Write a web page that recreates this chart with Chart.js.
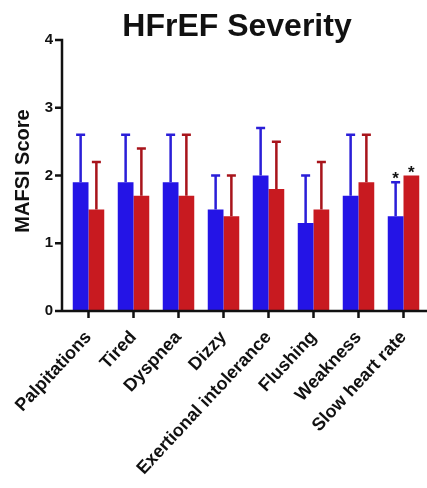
<!DOCTYPE html>
<html>
<head>
<meta charset="utf-8">
<script src="https://cdn.jsdelivr.net/npm/chart.js@4/dist/chart.umd.min.js"></script>
<style>
  html, body { margin: 0; padding: 0; background: #ffffff; }
  #wrap { width: 427px; height: 488px; }
</style>
</head>
<body>
<div id="wrap"><canvas id="c" width="427" height="488"></canvas></div>
<script>
// Symptom categories and MAFSI scores (mean and mean + SD) for the two groups
const categories = ['Palpitations', 'Tired', 'Dyspnea', 'Dizzy', 'Exertional intolerance', 'Flushing', 'Weakness', 'Slow heart rate'];
const blueMeans  = [1.9, 1.9, 1.9, 1.5, 2.0, 1.3, 1.7, 1.4];
const blueUpper  = [2.6, 2.6, 2.6, 2.0, 2.7, 2.0, 2.6, 1.9];
const redMeans   = [1.5, 1.7, 1.7, 1.4, 1.8, 1.5, 1.9, 2.0];
const redUpper   = [2.2, 2.4, 2.6, 2.0, 2.5, 2.2, 2.6, 2.0];
const yTickValues = [0, 1, 2, 3, 4];
const starredCategories = ['Slow heart rate'];
const chartTitle = 'HFrEF Severity';
const yTitle = 'MAFSI Score';

const FONT = "'Liberation Sans', Arial, Helvetica, sans-serif";
const INK = '#111111';

// Draws the offset axes, tick marks, SD whiskers, significance stars and titles
const decorations = {
  id: 'decorations',
  afterDatasetsDraw(chart) {
    const ctx = chart.ctx;
    const xs = chart.scales.x, ys = chart.scales.y;
    const area = chart.chartArea;
    ctx.save();

    // upper SD whiskers with caps
    chart.data.datasets.forEach((ds, di) => {
      const meta = chart.getDatasetMeta(di);
      meta.data.forEach((bar, i) => {
        if (ds.upper[i] <= ds.data[i]) return;
        const yTop = ys.getPixelForValue(ds.upper[i]);
        const yBase = ys.getPixelForValue(ds.data[i]);
        ctx.strokeStyle = ds.whiskerColor;
        ctx.lineWidth = 2.5;
        ctx.lineCap = 'butt';
        ctx.beginPath();
        ctx.moveTo(bar.x, yBase);
        ctx.lineTo(bar.x, yTop);
        ctx.moveTo(bar.x - 4.5, yTop);
        ctx.lineTo(bar.x + 4.5, yTop);
        ctx.stroke();
      });
    });

    // significance stars
    ctx.fillStyle = INK;
    ctx.font = 'bold 17px ' + FONT;
    ctx.textAlign = 'center';
    ctx.textBaseline = 'alphabetic';
    chart.data.datasets.forEach((ds, di) => {
      const meta = chart.getDatasetMeta(di);
      categories.forEach((cat, i) => {
        if (!starredCategories.includes(cat)) return;
        const bar = meta.data[i];
        const yTop = ys.getPixelForValue(Math.max(ds.upper[i], ds.data[i]));
        ctx.fillText('*', bar.x, yTop + 2);
      });
    });

    // y axis, drawn a little left of the plot area
    const axisX = area.left - 4;
    const y0 = ys.getPixelForValue(0);
    ctx.strokeStyle = INK;
    ctx.lineWidth = 2.5;
    ctx.beginPath();
    ctx.moveTo(axisX, ys.getPixelForValue(yTickValues[yTickValues.length - 1]) - 1.25);
    ctx.lineTo(axisX, y0 + 1.25);
    yTickValues.forEach(v => {
      const py = ys.getPixelForValue(v);
      ctx.moveTo(axisX - 7, py);
      ctx.lineTo(axisX, py);
    });
    // x axis and its tick marks
    ctx.moveTo(axisX - 7, y0);
    ctx.lineTo(chart.width, y0);
    categories.forEach((c, i) => {
      const px = xs.getPixelForValue(i);
      ctx.moveTo(px, y0);
      ctx.lineTo(px, y0 + 7);
    });
    ctx.stroke();

    // chart title
    ctx.fillStyle = INK;
    ctx.font = 'bold 32px ' + FONT;
    ctx.textAlign = 'center';
    ctx.textBaseline = 'alphabetic';
    ctx.fillText(chartTitle, 237, 36);

    // y axis title
    ctx.save();
    ctx.translate(29, 171);
    ctx.rotate(-Math.PI / 2);
    ctx.font = 'bold 20px ' + FONT;
    ctx.textAlign = 'center';
    ctx.textBaseline = 'alphabetic';
    ctx.fillText(yTitle, 0, 0);
    ctx.restore();

    ctx.restore();
  }
};

new Chart(document.getElementById('c'), {
  type: 'bar',
  data: {
    labels: categories,
    datasets: [
      {
        label: 'Series A',
        data: blueMeans,
        upper: blueUpper,
        backgroundColor: '#2414e6',
        whiskerColor: '#2a1ed8',
        borderWidth: 0
      },
      {
        label: 'Series B',
        data: redMeans,
        upper: redUpper,
        backgroundColor: '#c81a20',
        whiskerColor: '#a8141b',
        borderWidth: 0
      }
    ]
  },
  options: {
    responsive: false,
    animation: false,
    devicePixelRatio: 1,
    layout: { padding: { top: 40, right: 1, bottom: 0, left: 0 } },
    datasets: {
      bar: { categoryPercentage: 0.7, barPercentage: 1.0 }
    },
    plugins: {
      legend: { display: false },
      title: { display: false },
      tooltip: { enabled: false }
    },
    scales: {
      x: {
        offset: true,
        grid: { display: false, drawTicks: false },
        border: { display: false },
        afterFit(scale) {
          scale.height = 177;
          // the slanted labels hang left of their ticks, so no side padding is needed
          scale.paddingLeft = 0;
          scale.paddingRight = 0;
        },
        ticks: {
          autoSkip: false,
          maxRotation: 47,
          minRotation: 47,
          padding: 16,
          color: INK,
          font: { family: FONT, size: 18, weight: 'bold' }
        }
      },
      y: {
        min: 0,
        max: 4,
        afterFit(scale) { scale.width = 66; },
        afterBuildTicks(scale) { scale.ticks = yTickValues.map(v => ({ value: v })); },
        grid: { display: false, drawTicks: false },
        border: { display: false },
        ticks: {
          padding: 13,
          color: INK,
          font: { family: FONT, size: 15, weight: 'bold' }
        }
      }
    }
  },
  plugins: [decorations]
});
</script>
</body>
</html>
